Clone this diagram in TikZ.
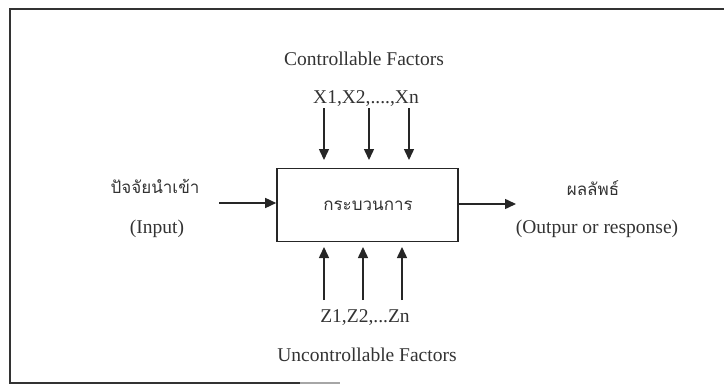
\documentclass[tikz,border=0pt]{standalone}
\usepackage{fontspec}
\setmainfont{Liberation Serif}
\newfontfamily\thaifont[Script=Thai]{Loma}
\usetikzlibrary{arrows.meta}
\tikzset{
  txt/.style={inner sep=0pt, font=\fontsize{19.5}{22}\selectfont, text=black!80},
  thai/.style={inner sep=0pt, font=\thaifont\fontsize{17}{19}\selectfont, text=black!80},
  procbox/.style={draw=black!85, line width=1.6pt, minimum width=181pt, minimum height=73pt, inner sep=0pt},
  flow/.style={draw=black!85, line width=1.5pt, -{Triangle[length=11pt,width=10pt]}},
  frame/.style={draw=black!80, line width=2pt}
}
\begin{document}
\begin{tikzpicture}[x=1pt,y=-1pt]
\useasboundingbox (0,0) rectangle (724,386);
% frame
\coordinate (ftr) at (730,9);
\coordinate (ftl) at (10,9);
\coordinate (fbl) at (10,383);
\coordinate (fbr) at (300,383);
\coordinate (fbf) at (340,383);
\draw[frame] (ftr) -- (ftl) -- (fbl) -- (fbr);
\draw[draw=black!35, line width=2pt] (fbr) -- (fbf);
% process box
\node[procbox] (proc) at (367.5,205) {};
\node[thai] (proct) at (368,206) {กระบวนการ};
% top
\node[txt] (ctl) at (364,59) {Controllable Factors};
\node[txt] (xs) at (366,99) {X1,X2,....,Xn};
\coordinate (xa1) at (324,108);
\coordinate (xa2) at (369,108);
\coordinate (xa3) at (409,108);
\coordinate (xb1) at (324,160);
\coordinate (xb2) at (369,160);
\coordinate (xb3) at (409,160);
\draw[flow] (xa1) -- (xb1);
\draw[flow] (xa2) -- (xb2);
\draw[flow] (xa3) -- (xb3);
% bottom
\coordinate (za1) at (324,300);
\coordinate (za2) at (363,300);
\coordinate (za3) at (402,300);
\coordinate (zb1) at (324,247);
\coordinate (zb2) at (363,247);
\coordinate (zb3) at (402,247);
\draw[flow] (za1) -- (zb1);
\draw[flow] (za2) -- (zb2);
\draw[flow] (za3) -- (zb3);
\node[txt] (zs) at (365,318) {Z1,Z2,...Zn};
\node[txt] (unc) at (367,355) {Uncontrollable Factors};
% input
\node[thai] (inth) at (155,186) {ปัจจัยนำเข้า};
\node[txt] (inen) at (157,229) {(Input)};
\coordinate (inst) at (219,203);
\draw[flow] (inst) -- (proc.west |- inst);
% output
\node[thai] (outth) at (593,188) {ผลลัพธ์};
\node[txt] (outen) at (597,229) {(Outpur or response)};
\coordinate (outend) at (516,204);
\draw[flow] (proc.east |- outend) -- (outend);
\end{tikzpicture}
\end{document}
